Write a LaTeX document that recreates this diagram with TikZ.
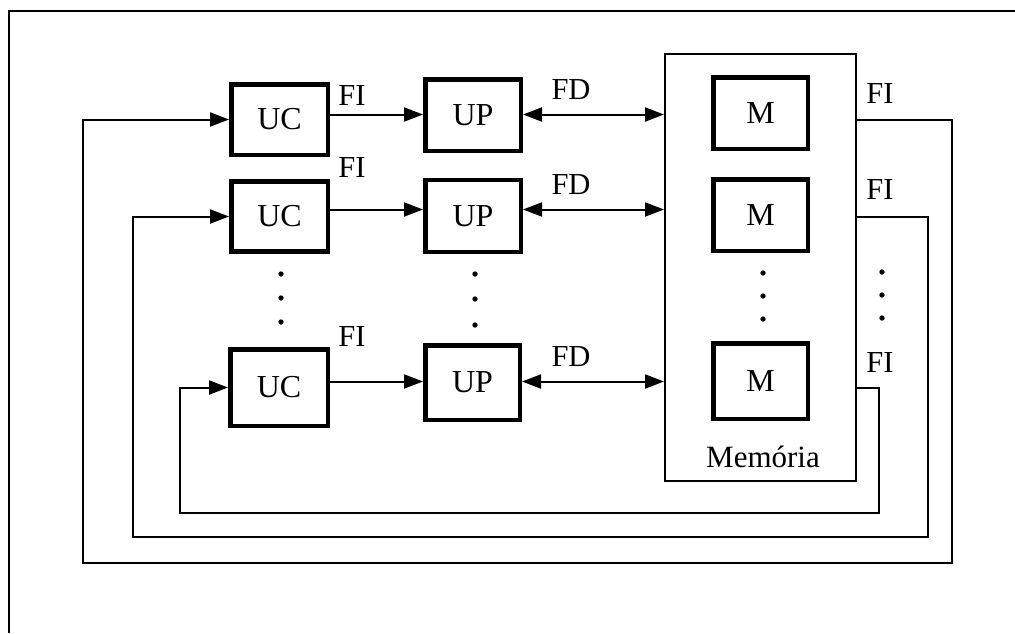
\documentclass[tikz,border=0pt]{standalone}
\usepackage{fontspec}
\setmainfont{Liberation Serif}
\usetikzlibrary{arrows.meta}
\begin{document}
\begin{tikzpicture}[x=1pt,y=-1pt,
  thinline/.style={line width=2pt},
  unit/.style={draw, line width=4.5pt, inner sep=0pt, font=\fontsize{32}{38}\selectfont},
  membox/.style={draw, line width=2pt, inner sep=0pt},
  lbl/.style={anchor=base, inner sep=0pt, font=\fontsize{30.5}{36}\selectfont},
  arr/.style={line width=2pt, -{Triangle[length=19pt,width=14pt]}},
  darr/.style={line width=2pt, {Triangle[length=19pt,width=14pt]}-{Triangle[length=19pt,width=14pt]}}
]
\useasboundingbox (0,0) rectangle (1015,633);
% frame (cropped: only top and left edges visible)
\draw[thinline] (1015,11) -- (8.5,11) -- (8.5,633);

% memory block
\node[membox, minimum width=191pt, minimum height=427pt] (Mem) at (760.5,267.5) {};
\node[lbl, font=\fontsize{31}{37}\selectfont] (memlbl) at (763,467) {Memória};

% UC boxes
\node[unit, minimum width=96.5pt, minimum height=70.5pt] (UC1) at (279.5,119.5) {UC};
\node[unit, minimum width=96.5pt, minimum height=70pt] (UC2) at (279.5,216.5) {UC};
\node[unit, minimum width=97.5pt, minimum height=76.5pt] (UC3) at (279,387.5) {UC};
% UP boxes
\node[unit, minimum width=95.5pt, minimum height=71.5pt] (UP1) at (473,115) {UP};
\node[unit, minimum width=95.5pt, minimum height=72pt] (UP2) at (473,216) {UP};
\node[unit, minimum width=94.5pt, minimum height=74.5pt] (UP3) at (472.5,382.5) {UP};
% M boxes
\node[unit, minimum width=94.5pt, minimum height=71.5pt] (M1) at (760.5,113) {M};
\node[unit, minimum width=94.5pt, minimum height=71.5pt] (M2) at (760.5,215) {M};
\node[unit, minimum width=94.5pt, minimum height=75.5pt] (M3) at (760.5,381) {M};

% row levels for forward connectors
\coordinate (r1) at (0,114.5);
\coordinate (r2) at (0,209.5);
\coordinate (r3) at (0,381.5);

% UC -> UP
\draw[arr] (UC1.east |- r1) -- (UP1.west |- r1);
\draw[arr] (UC2.east |- r2) -- (UP2.west |- r2);
\draw[arr] (UC3.east |- r3) -- (UP3.west |- r3);
% UP <-> Memory
\draw[darr] (UP1.east |- r1) -- (Mem.west |- r1);
\draw[darr] (UP2.east |- r2) -- (Mem.west |- r2);
\draw[darr] (UP3.east |- r3) -- (Mem.west |- r3);

% feedback loops Memory -> UC
\coordinate (f1) at (952,563); \coordinate (g1) at (83,563);
\coordinate (f2) at (928,537); \coordinate (g2) at (133,537);
\coordinate (f3) at (879,513); \coordinate (g3) at (180,513);
\draw[arr] (Mem.east |- UC1.west) -| (f1) -- (g1) |- (UC1.west);
\draw[arr] (Mem.east |- UC2.west) -| (f2) -- (g2) |- (UC2.west);
\draw[arr] (Mem.east |- UC3.west) -| (f3) -- (g3) |- (UC3.west);

% labels
\node[lbl] (fi1) at (352,105) {FI};
\node[lbl] (fi2) at (352,177) {FI};
\node[lbl] (fi3) at (352,346) {FI};
\node[lbl] (fd1) at (571,99) {FD};
\node[lbl] (fd2) at (571,194) {FD};
\node[lbl] (fd3) at (571,366) {FD};
\node[lbl] (fo1) at (880,103) {FI};
\node[lbl] (fo2) at (880,199) {FI};
\node[lbl] (fo3) at (880,372) {FI};

% vertical ellipsis dots
\foreach \x/\a/\b/\c in {281/274/298/322, 475/274/299/325, 763/273/296/319, 882/272/295/318}{
  \fill (\x,\a) circle[radius=2.7pt];
  \fill (\x,\b) circle[radius=2.7pt];
  \fill (\x,\c) circle[radius=2.7pt];
}
\end{tikzpicture}
\end{document}
